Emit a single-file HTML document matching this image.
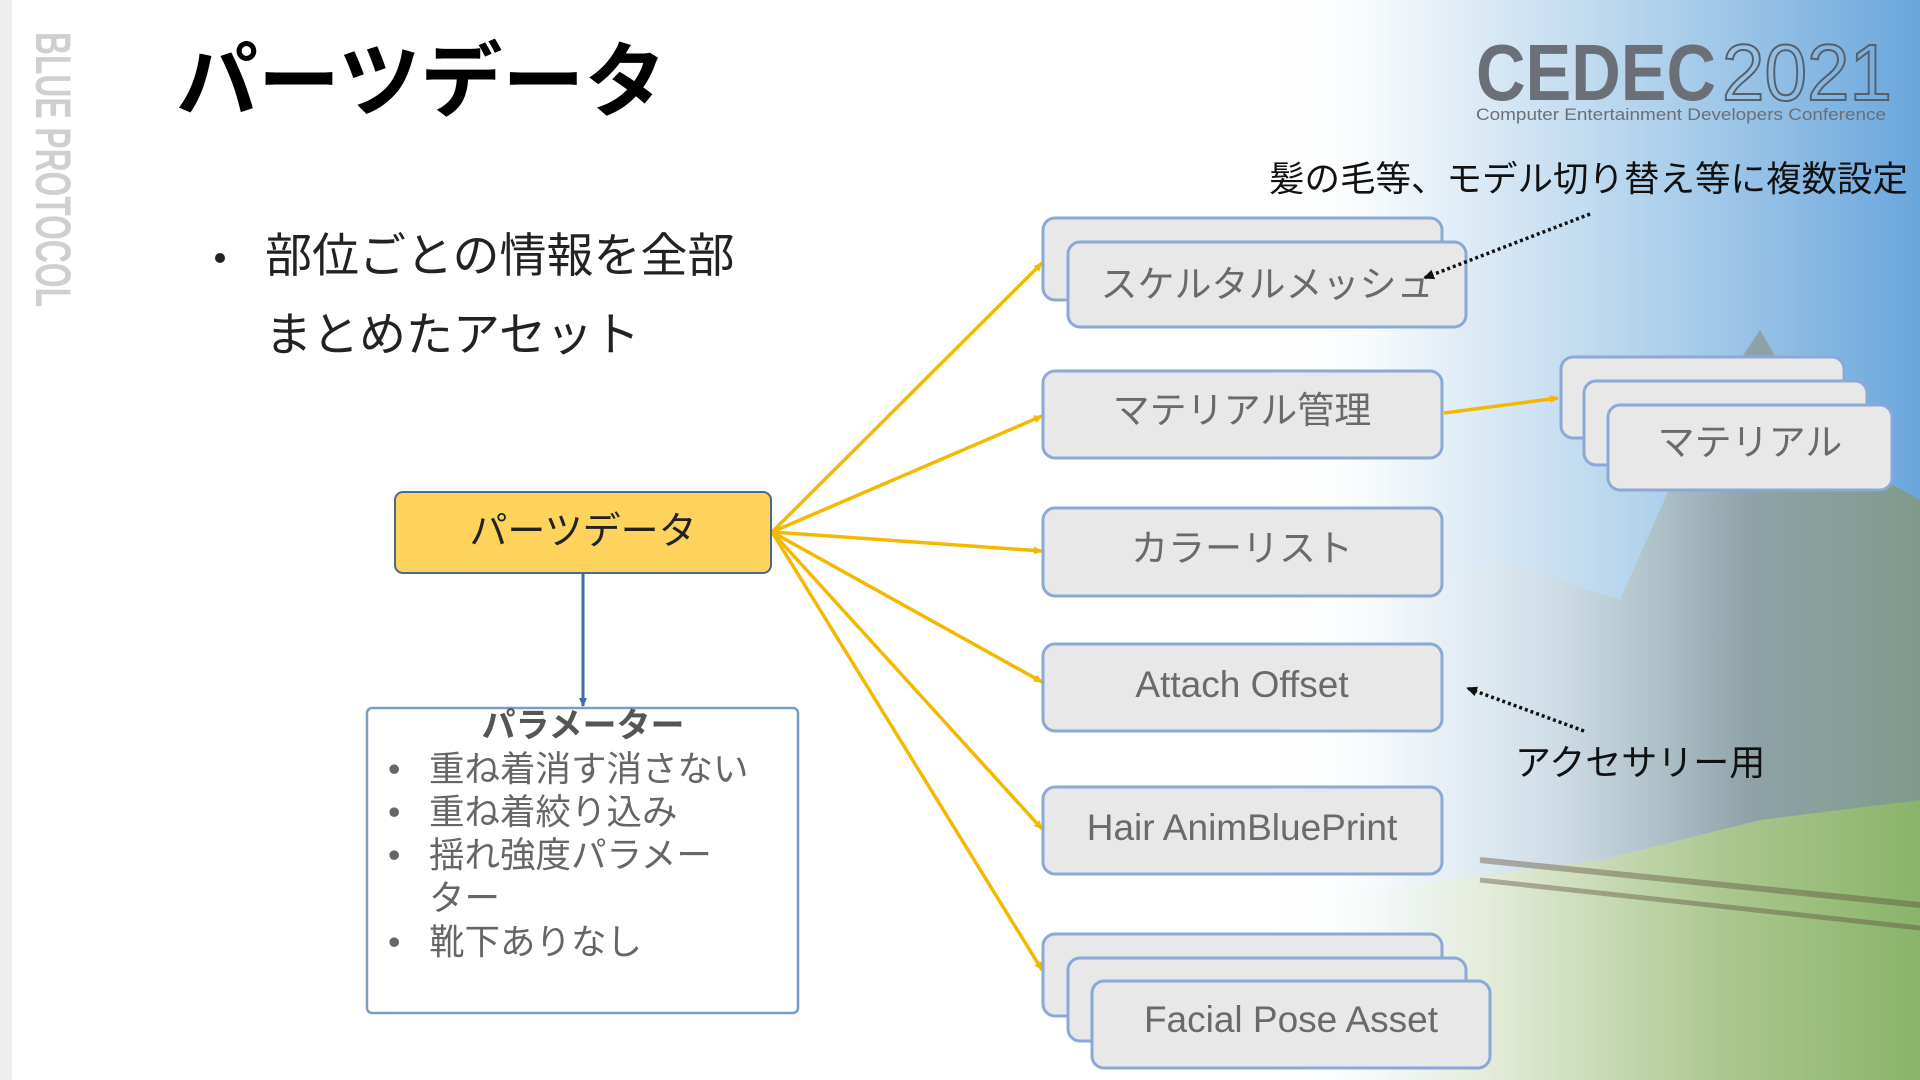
<!DOCTYPE html>
<html><head><meta charset="utf-8"><style>
html,body{margin:0;padding:0;width:1920px;height:1080px;overflow:hidden;background:#fff;}
body{font-family:"Liberation Sans","Noto Sans CJK JP",sans-serif;}
.bg{position:absolute;left:0;top:0;width:1920px;height:1080px;}
</style></head><body>
<svg class="bg" width="1920" height="1080" viewBox="0 0 1920 1080" xmlns="http://www.w3.org/2000/svg">
<defs>
<linearGradient id="sky" x1="0" y1="0" x2="1" y2="0">
<stop offset="0" stop-color="#ffffff" stop-opacity="0"/>
<stop offset="0.3" stop-color="#e2eef7"/>
<stop offset="0.65" stop-color="#a9cdea"/>
<stop offset="1" stop-color="#6aa6dc"/>
</linearGradient>
<linearGradient id="mtn" x1="0" y1="0" x2="1" y2="0">
<stop offset="0" stop-color="#ffffff" stop-opacity="0"/>
<stop offset="0.35" stop-color="#d3dde2" stop-opacity="0.7"/>
<stop offset="0.7" stop-color="#8fa3a8"/>
<stop offset="1" stop-color="#7f9a8c"/>
</linearGradient>
<linearGradient id="grass" x1="0" y1="0" x2="1" y2="0">
<stop offset="0" stop-color="#ffffff" stop-opacity="0"/>
<stop offset="0.3" stop-color="#e4ecda"/>
<stop offset="0.7" stop-color="#a9c68c"/>
<stop offset="1" stop-color="#8ab46a"/>
</linearGradient>
<linearGradient id="fadeL" x1="0" y1="0" x2="1" y2="0">
<stop offset="0" stop-color="#fff"/><stop offset="1" stop-color="#fff" stop-opacity="0"/>
</linearGradient>
<marker id="ay" markerWidth="10" markerHeight="10" refX="8" refY="5" orient="auto" markerUnits="userSpaceOnUse"><path d="M0,1 L9,5 L0,9 z" fill="#f5b800"/></marker>
<marker id="ab" markerWidth="10" markerHeight="10" refX="8" refY="5" orient="auto" markerUnits="userSpaceOnUse"><path d="M0,1 L9,5 L0,9 z" fill="#3e6fa0"/></marker>
<marker id="ak" markerWidth="12" markerHeight="12" refX="10" refY="6" orient="auto" markerUnits="userSpaceOnUse"><path d="M0,1 L11,6 L0,11 z" fill="#111"/></marker>
</defs>
<rect x="1250" y="0" width="670" height="1080" fill="url(#sky)"/>
<path d="M1350,1080 L1350,600 L1500,560 L1620,600 L1700,420 L1760,330 L1830,450 L1920,500 L1920,1080 Z" fill="url(#mtn)"/>
<path d="M1300,1080 L1300,900 L1600,860 L1760,820 L1920,800 L1920,1080 Z" fill="url(#grass)"/>
<path d="M1480,860 L1920,905" stroke="#5a4a3a" stroke-width="6" opacity="0.4"/>
<path d="M1480,880 L1920,928" stroke="#5a4a3a" stroke-width="5" opacity="0.4"/>
<rect x="1220" y="0" width="180" height="1080" fill="url(#fadeL)"/>
<rect x="0" y="0" width="12" height="1080" fill="#eeeeee"/>
<text x="0" y="0" transform="translate(36,32) rotate(90)" font-family="Liberation Sans,sans-serif" font-size="50" font-weight="bold" fill="#cfcfcf" textLength="275" lengthAdjust="spacingAndGlyphs">BLUE PROTOCOL</text>
<text x="1476" y="100" font-family="Liberation Sans,sans-serif" font-size="80" font-weight="bold" fill="#6b6f78" textLength="240" lengthAdjust="spacingAndGlyphs">CEDEC</text>
<text x="1722" y="100" font-family="Liberation Sans,sans-serif" font-size="80" fill="none" stroke="#55606c" stroke-width="2" textLength="170" lengthAdjust="spacingAndGlyphs">2021</text>
<text x="1476" y="120" font-family="Liberation Sans,sans-serif" font-size="17" fill="#6b6f78" textLength="410" lengthAdjust="spacingAndGlyphs">Computer Entertainment Developers Conference</text>
<text x="176" y="110" font-size="82" font-weight="bold" fill="#000">パーツデータ</text>
<circle cx="220" cy="258" r="5" fill="#222"/>
<text x="265" y="272" font-size="47" fill="#222">部位ごとの情報を全部</text>
<text x="265" y="351" font-size="47" fill="#222">まとめたアセット</text>
<g stroke="#f5b800" stroke-width="3.5" fill="none" marker-end="url(#ay)">
<line x1="772" y1="532" x2="1042" y2="263"/>
<line x1="772" y1="532" x2="1042" y2="416"/>
<line x1="772" y1="532" x2="1042" y2="551"/>
<line x1="772" y1="532" x2="1042" y2="682"/>
<line x1="772" y1="532" x2="1042" y2="829"/>
<line x1="772" y1="532" x2="1042" y2="970"/>
<line x1="1444" y1="413" x2="1558" y2="398"/>
</g>
<line x1="583" y1="574" x2="583" y2="706" stroke="#3e6fa0" stroke-width="3" marker-end="url(#ab)"/>
<rect x="395" y="492" width="376" height="81" rx="8" fill="#fdd35c" stroke="#4a6a88" stroke-width="2"/>
<text x="583" y="544" font-size="38" fill="#222" text-anchor="middle">パーツデータ</text>
<rect x="367" y="708" width="431" height="305" rx="5" fill="#fff" stroke="#7b9cc7" stroke-width="2.5"/>
<text x="583" y="737" font-size="34" font-weight="bold" fill="#555" text-anchor="middle">パラメーター</text>
<g font-size="35.5" fill="#666">
<text x="388" y="781">•</text><text x="429" y="781">重ね着消す消さない</text>
<text x="388" y="824">•</text><text x="429" y="824">重ね着絞り込み</text>
<text x="388" y="867">•</text><text x="429" y="867">揺れ強度パラメー</text>
<text x="429" y="910">ター</text>
<text x="388" y="954">•</text><text x="429" y="954">靴下ありなし</text>
</g>
<g fill="#e8e8e8" stroke="#8ba9d6" stroke-width="3">
<rect x="1043" y="218" width="399" height="82" rx="12"/>
<rect x="1068" y="242" width="398" height="85" rx="12"/>
<rect x="1043" y="371" width="399" height="87" rx="12"/>
<rect x="1043" y="508" width="399" height="88" rx="12"/>
<rect x="1043" y="644" width="399" height="87" rx="12"/>
<rect x="1043" y="787" width="399" height="87" rx="12"/>
<rect x="1043" y="934" width="399" height="82" rx="12"/>
<rect x="1068" y="958" width="398" height="83" rx="12"/>
<rect x="1092" y="981" width="398" height="87" rx="12"/>
<rect x="1561" y="357" width="283" height="81" rx="12"/>
<rect x="1584" y="381" width="283" height="84" rx="12"/>
<rect x="1608" y="405" width="284" height="85" rx="12"/>
</g>
<g font-size="37" fill="#6a6a6a" text-anchor="middle">
<text x="1267" y="297">スケルタルメッシュ</text>
<text x="1242" y="423">マテリアル管理</text>
<text x="1242" y="561">カラーリスト</text>
<text x="1242" y="697">Attach Offset</text>
<text x="1242" y="840">Hair AnimBluePrint</text>
<text x="1291" y="1032">Facial Pose Asset</text>
<text x="1750" y="455">マテリアル</text>
</g>
<text x="1908" y="191" font-size="35.5" fill="#111" text-anchor="end">髪の毛等、モデル切り替え等に複数設定</text>
<line x1="1590" y1="214" x2="1424" y2="278" stroke="#111" stroke-width="3.5" stroke-dasharray="3,3" marker-end="url(#ak)"/>
<text x="1515" y="775" font-size="36" fill="#111">アクセサリー用</text>
<line x1="1584" y1="731" x2="1467" y2="688" stroke="#111" stroke-width="3.5" stroke-dasharray="3,3" marker-end="url(#ak)"/>
</svg>
</body></html>
